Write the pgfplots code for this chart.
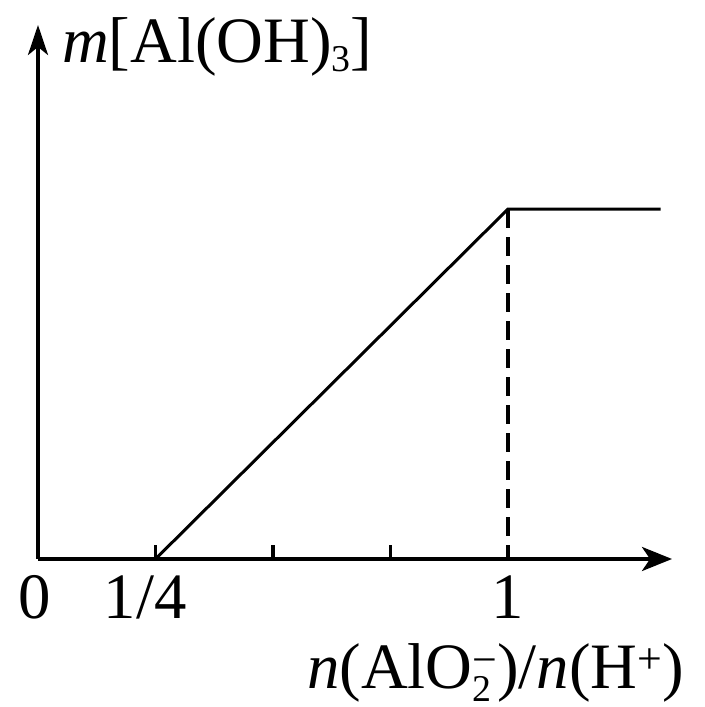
\documentclass[border=0pt]{standalone}
\usepackage{fontspec}
\setmainfont{Liberation Serif}
\usepackage{pgfplots}
\pgfplotsset{compat=1.18}
\usetikzlibrary{arrows.meta}

\newcommand{\labfont}{\fontsize{65}{65}\selectfont}
\newcommand{\lo}[2]{\raisebox{#1}{\fontsize{38}{38}\selectfont #2}}
\newcommand{\hi}[2]{\raisebox{#1}{\fontsize{44}{44}\selectfont #2}}

\begin{document}
\begin{tikzpicture}[x=1bp,y=1bp]
% page frame: reference is 705x707 px, axis origin sits at (38,559)
\useasboundingbox (-38,-148) rectangle (667,559);
\begin{axis}[
  scale only axis,
  width=634bp, height=534bp,
  xmin=0, xmax=1.349,
  ymin=0, ymax=1.526,
  axis lines=left,
  axis line style={line width=3.6bp},
  x axis line style={-{Stealth[length=30bp,width=24bp,inset=8bp]}},
  y axis line style={-{Stealth[length=30bp,width=20bp,inset=8bp]}},
  xtick={0.25,0.5,0.75,1},
  xticklabels={},
  ytick=\empty,
  tick align=inside,
  major tick length=14bp,
  tick style={line width=3.2bp, black},
  clip=false,
]
% Al(OH)3 mass vs. ratio
\addplot[black, line width=3bp, line join=miter] coordinates {
  (0.25,0) (1,1) (1.325,1)
};
\addplot[black, line width=4bp, dash pattern=on 19bp off 9bp] coordinates {
  (1,1) (1,0)
};
\end{axis}

\node[anchor=base west, inner sep=0] at (24,496)
  {\labfont\textit{m}[Al(OH)\lo{-9bp}{3}]};
\node[anchor=base west, inner sep=0] at (269,-129)
  {\labfont\textit{n}(AlO\rlap{\lo{-13bp}{2}}\hi{14bp}{−})/\textit{n}(H\hi{15bp}{+})};
\node[anchor=base, inner sep=0] at (-3,-59) {\labfont 0};
\node[anchor=base, inner sep=0] at (107,-59) {\labfont 1/4};
\node[anchor=base, inner sep=0] at (470,-59) {\labfont 1};
\end{tikzpicture}
\end{document}
